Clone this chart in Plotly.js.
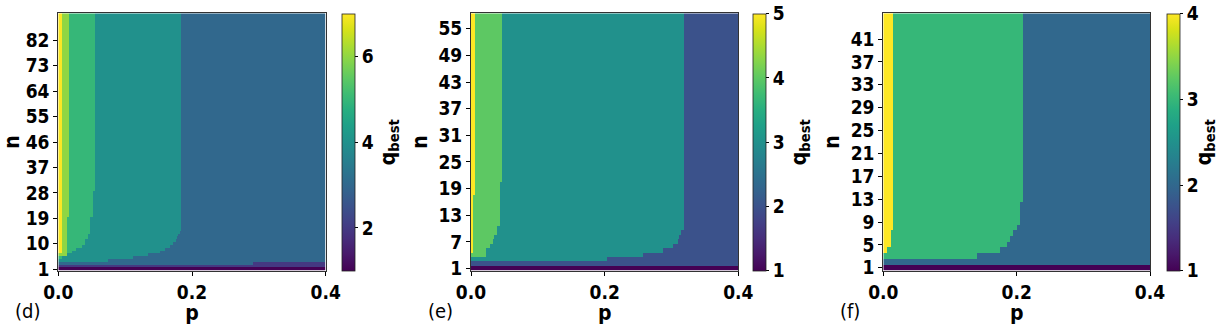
<!DOCTYPE html>
<html>
<head>
<meta charset="utf-8">
<script src="https://cdn.plot.ly/plotly-3.0.1.min.js"></script>
<style>body{margin:0;background:#fff}#myDiv{width:1226px;height:325px}</style>
</head>
<body>
<div id="myDiv"></div>
<script>
// each region boundary is a list of [first row n, p where the region ends]
// panel (d): q from 1 to 7, n = 1..91
var dRows = 91;
var dQ1 = [[1, 0.4], [2, 0]];
var dQ7 = [[1, 0], [7, 0.005]];
var dQ6 = [[1, 0], [6, 0.013], [20, 0.016]];
var dQ5 = [[1, 0], [5, 0.005], [6, 0.0125], [7, 0.02], [8, 0.0275], [9, 0.035], [10, 0.04], [12, 0.045], [14, 0.047], [20, 0.0524], [29, 0.055]];
var dQ4 = [[1, 0], [4, 0.075], [5, 0.112], [6, 0.135], [7, 0.152], [8, 0.16], [9, 0.167], [10, 0.172], [11, 0.176], [12, 0.178], [13, 0.18], [14, 0.182], [15, 0.1845]];
var dQ3 = [[1, 0], [3, 0.292], [4, 0.4]];
var dTicks = [1, 10, 19, 28, 37, 46, 55, 64, 73, 82];

// panel (e): q from 1 to 5, n = 1..58
var eRows = 58;
var eQ1 = [[1, 0.4], [2, 0]];
var eQ5 = [[1, 0], [5, 0.0035], [18, 0.0065]];
var eQ4 = [[1, 0], [4, 0.023], [6, 0.028], [7, 0.033], [8, 0.035], [9, 0.039], [11, 0.043], [21, 0.047]];
var eQ3 = [[1, 0], [3, 0.203], [4, 0.258], [5, 0.288], [6, 0.303], [7, 0.31], [8, 0.312], [9, 0.315], [10, 0.319]];
var eTicks = [1, 7, 13, 19, 25, 31, 37, 43, 49, 55];

// panel (f): q from 1 to 4, n = 1..45
var fRows = 45;
var fQ1 = [[1, 0.4], [2, 0]];
var fQ4 = [[1, 0], [4, 0.0065], [5, 0.0115], [8, 0.015]];
var fQ3 = [[1, 0], [3, 0.14], [4, 0.175], [5, 0.185], [6, 0.19], [7, 0.195], [8, 0.2], [9, 0.205], [13, 0.21]];
var fTicks = [1, 5, 9, 13, 17, 21, 25, 29, 33, 37, 41];

// p grid (cell centres)
var pStep = 0.001;
var pCells = [];
for (var i = 0; i < 400; i++) pCells.push((i + 0.5) * pStep);

function edgeAt(steps, n) {
  var v = 0;
  steps.forEach(function (s) { if (n >= s[0]) v = s[1]; });
  return v;
}

// levels: [[q, steps], ...] checked in order, rest gets fallback q
function buildGrid(rows, levels, fallback) {
  var ys = [], z = [];
  for (var n = 1; n <= rows; n++) {
    ys.push(n);
    var edges = levels.map(function (l) { return edgeAt(l[1], n); });
    z.push(pCells.map(function (p) {
      for (var k = 0; k < levels.length; k++) if (p < edges[k]) return levels[k][0];
      return fallback;
    }));
  }
  return {y: ys, z: z};
}

var gd = buildGrid(dRows, [[1, dQ1], [7, dQ7], [6, dQ6], [5, dQ5], [4, dQ4], [3, dQ3]], 2);
var ge = buildGrid(eRows, [[1, eQ1], [5, eQ5], [4, eQ4], [3, eQ3]], 2);
var gf = buildGrid(fRows, [[1, fQ1], [4, fQ4], [3, fQ3]], 2);

var W = 1226, H = 325;
var fam = 'DejaVu Sans Condensed, DejaVu Sans, sans-serif';
var boldFont = {family: fam, size: 19, color: 'black', weight: 'bold'};
var titleFont = {family: fam, size: 21, color: 'black', weight: 'bold'};
var yDom = [(H - 270.7) / H, (H - 13.3) / H];

function bar(x0, cmax, ticks) {
  return {
    x: x0 / W, xanchor: 'left', xpad: 0, ypad: 0,
    y: yDom[0], yanchor: 'bottom', len: yDom[1] - yDom[0], lenmode: 'fraction',
    thickness: 12.5, outlinewidth: 0.8, outlinecolor: '#222',
    tickvals: ticks, ticks: 'outside', ticklen: 3, tickwidth: 1, tickcolor: 'black',
    tickfont: boldFont,
    title: {text: '<b>q<sub>best</sub></b>', side: 'right', font: titleFont}
  };
}

function heat(g, cmax, xa, ya, cb) {
  return {
    type: 'heatmap', x: pCells, y: g.y, z: g.z,
    zmin: 1, zmax: cmax, colorscale: 'Viridis',
    xaxis: xa, yaxis: ya, colorbar: cb, hoverinfo: 'skip'
  };
}

var data = [
  heat(gd, 7, 'x', 'y', bar(342, 7, [2, 4, 6])),
  heat(ge, 5, 'x2', 'y2', bar(753.3, 5, [1, 2, 3, 4, 5])),
  heat(gf, 4, 'x3', 'y3', bar(1166.7, 4, [1, 2, 3, 4]))
];

function xAx(l, r, ya) {
  return {
    domain: [l / W, r / W], anchor: ya, range: [0, 0.4],
    tickvals: [0, 0.2, 0.4], tickformat: '.1f',
    ticks: 'outside', ticklen: 4, tickwidth: 1, tickcolor: 'black',
    showline: true, mirror: true, linecolor: '#333', linewidth: 1,
    showgrid: false, zeroline: false, tickfont: boldFont,
    title: {text: '<b>p</b>', font: titleFont, standoff: 2}
  };
}
function yAx(rows, ticks, xa) {
  return {
    domain: yDom, anchor: xa, range: [0.5, rows + 0.5],
    tickvals: ticks, ticks: 'outside', ticklen: 4, tickwidth: 1, tickcolor: 'black',
    showline: true, mirror: true, linecolor: '#333', linewidth: 1,
    showgrid: false, zeroline: false, tickfont: boldFont,
    title: {text: '<b>n</b>', font: titleFont, standoff: 5}
  };
}

var labelFont = {family: fam, size: 20, color: 'black'};
function panelLabel(t, xc) {
  return {text: t, xref: 'paper', yref: 'paper', x: xc / W, y: (H - 311) / H,
    xanchor: 'center', yanchor: 'middle', showarrow: false, font: labelFont};
}

var layout = {
  width: W, height: H,
  margin: {l: 0, r: 0, t: 0, b: 0},
  paper_bgcolor: 'white', plot_bgcolor: 'white',
  showlegend: false,
  xaxis: xAx(58.3, 325.7, 'y'),
  yaxis: yAx(dRows, dTicks, 'x'),
  xaxis2: xAx(471, 738.3, 'y2'),
  yaxis2: yAx(eRows, eTicks, 'x2'),
  xaxis3: xAx(883.3, 1150, 'y3'),
  yaxis3: yAx(fRows, fTicks, 'x3'),
  annotations: [panelLabel('(d)', 27.5), panelLabel('(e)', 440), panelLabel('(f)', 850)]
};

Plotly.newPlot('myDiv', data, layout, {displayModeBar: false, staticPlot: true});
</script>
</body>
</html>
